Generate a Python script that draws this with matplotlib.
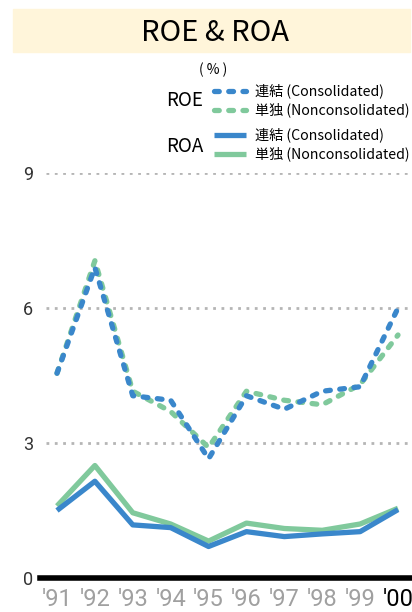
import matplotlib
matplotlib.use("Agg")
import matplotlib.pyplot as plt
from matplotlib.patches import Rectangle
from matplotlib.lines import Line2D

plt.rcParams['font.family'] = ['Noto Sans CJK JP', 'DejaVu Sans']
narrow = ['Liberation Sans Narrow', 'Roboto', 'DejaVu Sans']

years = ["'91", "'92", "'93", "'94", "'95", "'96", "'97", "'98", "'99", "'00"]
roe_cons = [4.55, 6.9, 4.05, 3.95, 2.65, 4.05, 3.75, 4.15, 4.25, 6.0]
roe_noncons = [4.55, 7.05, 4.15, 3.7, 2.9, 4.15, 3.95, 3.85, 4.3, 5.4]
roa_cons = [1.5, 2.15, 1.18, 1.12, 0.7, 1.03, 0.92, 0.98, 1.03, 1.52]
roa_noncons = [1.6, 2.5, 1.45, 1.2, 0.82, 1.22, 1.1, 1.06, 1.2, 1.55]
yticks = [0, 3, 6, 9]

blue = "#3a87cb"
green = "#80c99c"
dash = (0.9, 1.8)

W, H = 412, 612
fig = plt.figure(figsize=(W / 100, H / 100), dpi=100)

# title band
fig.patches.append(Rectangle((13 / W, 1 - 52 / H), 397 / W, 43 / H,
                             transform=fig.transFigure, color="#fff5da", zorder=0))
fig.text(215 / W, 1 - 33 / H, "ROE & ROA", ha="center", va="center", fontsize=21)

ax = fig.add_axes([40 / W, (H - 578) / H, 372 / W, 405 / H])
x = list(range(len(years)))
ax.plot(x, roa_noncons, color=green, lw=3.8, solid_capstyle="butt", zorder=3)
ax.plot(x, roa_cons, color=blue, lw=3.8, solid_capstyle="butt", zorder=4)
ax.plot(x, roe_noncons, color=green, lw=3.8, dashes=dash, dash_capstyle="round", zorder=3)
ax.plot(x, roe_cons, color=blue, lw=3.8, dashes=dash, dash_capstyle="round", zorder=4)

for v in yticks[1:]:
    ax.axhline(v, xmin=6 / 372, xmax=1, color="#b5b5b5", lw=2, ls=(0, (1, 2)), zorder=1)
ax.axhline(0, color="black", lw=4, zorder=5, clip_on=False)

ax.set_xlim(-17 / 37.9, 9 + 14 / 37.9)
ax.set_ylim(0, 9)
for s in ax.spines.values():
    s.set_visible(False)
ax.set_yticks(yticks)
ax.set_yticklabels([str(v) for v in yticks], fontsize=13, color="#333333", family=narrow)
ax.tick_params(axis="y", length=0, pad=5)
ax.set_xticks(x)
ax.set_xticklabels(years, fontsize=17, color="#a0a0a0", family=narrow)
ax.get_xticklabels()[-1].set_color("black")
ax.tick_params(axis="x", length=0, pad=7)

# legend
fig.text(213 / W, 1 - 70 / H, "( % )", ha="center", va="center", fontsize=10)
fig.text(185 / W, 1 - 101 / H, "ROE", ha="center", va="center", fontsize=13.5)
fig.text(185 / W, 1 - 146 / H, "ROA", ha="center", va="center", fontsize=13.5)
rows = [(91, blue, True, "連結 (Consolidated)"),
        (110, green, True, "単独 (Nonconsolidated)"),
        (135, blue, False, "連結 (Consolidated)"),
        (154, green, False, "単独 (Nonconsolidated)")]
for yy, c, dashed, label in rows:
    ln = Line2D([214 / W, 246 / W], [1 - yy / H, 1 - yy / H], transform=fig.transFigure,
                color=c, lw=3.8, solid_capstyle="butt")
    if dashed:
        ln.set_dashes(dash)
        ln.set_dash_capstyle("round")
    fig.lines.append(ln)
    fig.text(255 / W, 1 - yy / H, label, ha="left", va="center", fontsize=10.2)

fig.savefig("out.png", dpi=100)
